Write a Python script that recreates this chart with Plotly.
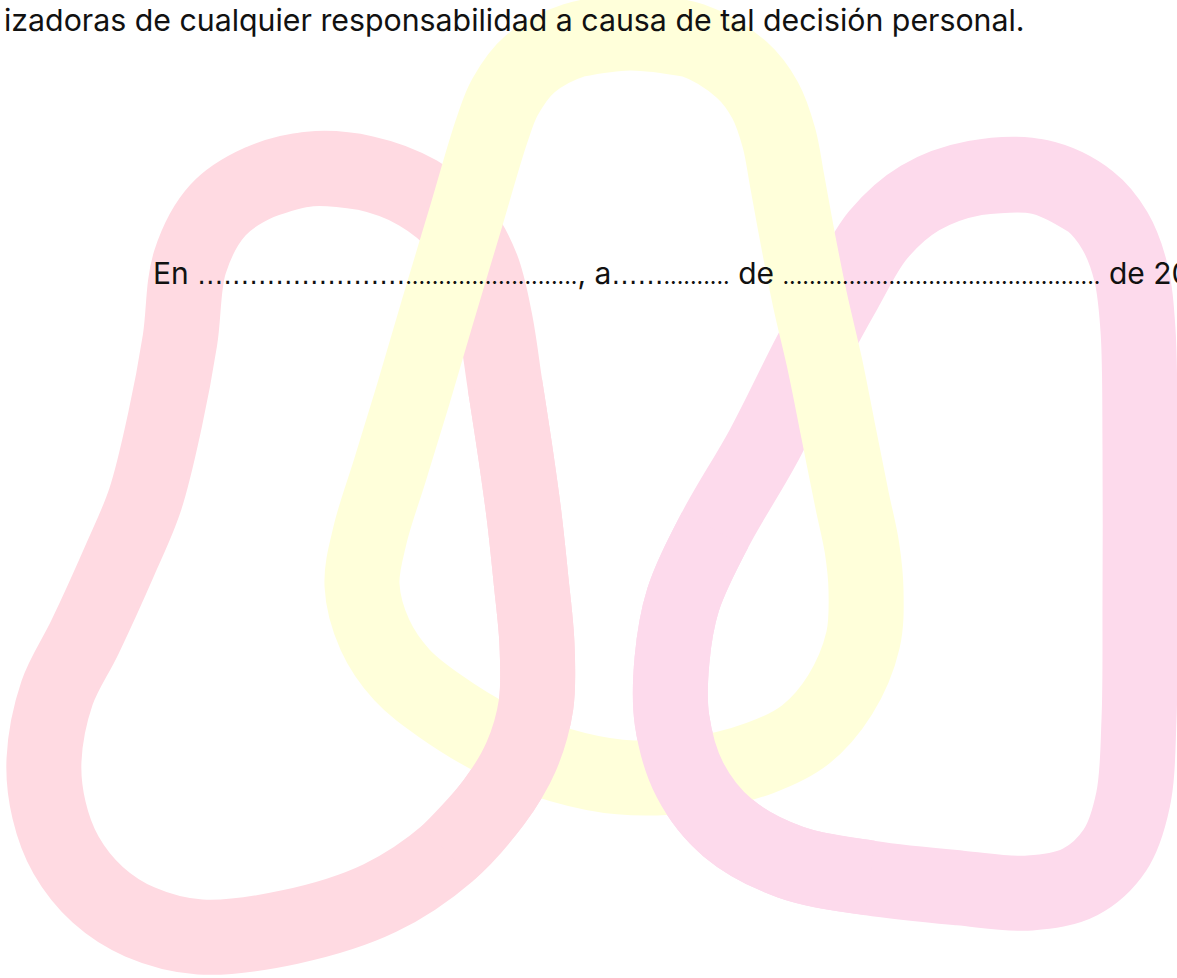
import plotly.graph_objects as go

# Centre-lines of the three interlocking bands (page pixel coordinates)
left_x = [310, 365, 418, 460, 482, 495, 505, 515, 524, 531, 537, 536, 521, 494, 448, 380, 290, 200, 140, 98, 66, 49, 44, 57, 85, 120, 145, 165, 180, 190, 218, 260]
left_y = [169, 173, 193, 228, 268, 320, 385, 450, 515, 580, 645, 705, 757, 802, 853, 898, 927, 937, 922, 895, 855, 810, 760, 693, 637, 560, 500, 420, 340, 262, 210, 182]

yellow_x = [630, 692, 742, 765, 779, 787, 798, 810, 825, 838, 852, 862, 866, 863, 840, 805, 760, 690, 620, 560, 500, 440, 402, 375, 362, 370, 390, 413, 438, 465, 492, 505, 530, 575]
yellow_y = [33, 40, 70, 100, 138, 180, 240, 300, 365, 430, 500, 548, 590, 640, 695, 735, 758, 775, 777, 765, 742, 706, 675, 635, 585, 535, 470, 395, 310, 220, 130, 97, 64, 40]

right_x = [1040, 1090, 1115, 1131, 1138, 1140, 1140, 1139, 1133, 1115, 1080, 1030, 960, 870, 790, 728, 690, 672, 672, 683, 715, 763, 810, 845, 878, 920, 975]
right_y = [177, 201, 231, 273, 330, 450, 600, 720, 800, 850, 882, 893, 888, 878, 862, 828, 780, 720, 660, 600, 530, 447, 354, 290, 235, 198, 178]

# parts of the pink bands that pass over the yellow band (index ranges)
left_over = (6, 15)
right_over = (13, 21)

left_color = "rgb(255,218,226)"
right_color = "rgb(253,218,236)"
yellow_color = "rgb(255,255,218)"
band_width = 75

line1 = "izadoras de cualquier responsabilidad a causa de tal decisión personal."


def spaced(n):
    return '<span style="font-family:DejaVu Sans;font-size:26px">' + "…" * n + "</span>"


def dense(n):
    return '<span style="font-size:23px">' + "." * n + "</span>"


line2 = "En " + spaced(8) + dense(26) + ", a" + spaced(2) + dense(10) + " de " + dense(48) + " de 20"

W, H = 1177, 978


def closed(xs, ys):
    return [xs[-1]] + xs + xs[:2], [ys[-1]] + ys + ys[:2]


def band(xs, ys, color):
    return go.Scatter(x=xs, y=ys, mode="lines",
                      line=dict(color=color, width=band_width, shape="spline", smoothing=1),
                      hoverinfo="skip", showlegend=False)


fig = go.Figure()
fig.add_trace(band(*closed(left_x, left_y), left_color))
fig.add_trace(band(*closed(right_x, right_y), right_color))
fig.add_trace(band(*closed(yellow_x, yellow_y), yellow_color))
a, b = left_over
fig.add_trace(band(left_x[a:b], left_y[a:b], left_color))
a, b = right_over
fig.add_trace(band(right_x[a:b], right_y[a:b], right_color))

fig.add_annotation(x=2, y=20, xref="x", yref="y", text=line1, showarrow=False,
                   xanchor="left", yanchor="middle",
                   font=dict(family="Inter", size=30.3, color="#111111"))
fig.add_annotation(x=151, y=273, xref="x", yref="y", text=line2, showarrow=False,
                   xanchor="left", yanchor="middle",
                   font=dict(family="Inter", size=30, color="#111111"))

fig.update_layout(width=W, height=H, margin=dict(l=0, r=0, t=0, b=0),
                  paper_bgcolor="white", plot_bgcolor="white",
                  xaxis=dict(range=[0, W], visible=False, fixedrange=True),
                  yaxis=dict(range=[H, 0], visible=False, fixedrange=True))

fig.write_html("out.html", config={"displayModeBar": False},
               post_script="document.body.style.margin='0';document.body.style.overflow='hidden';")
